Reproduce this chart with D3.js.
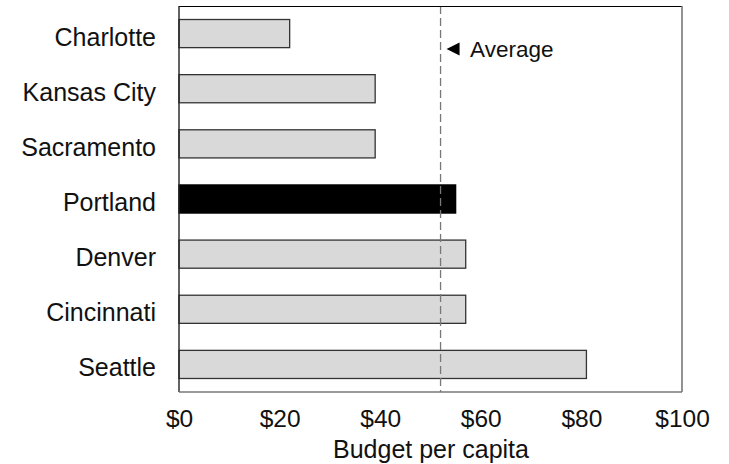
<!DOCTYPE html>
<html>
<head>
<meta charset="utf-8">
<script src="https://cdn.jsdelivr.net/npm/d3@7"></script>
<style>
  html, body { margin: 0; padding: 0; background: #fff; }
  svg { display: block; font-family: "Liberation Sans", Arial, sans-serif; }
</style>
</head>
<body>
<svg id="chart" width="729" height="464"></svg>
<script>
// Budget per capita by city
const cities = ["Charlotte", "Kansas City", "Sacramento", "Portland", "Denver", "Cincinnati", "Seattle"];
const budgets = [22, 39, 39, 55, 57, 57, 81];
const highlightCity = "Portland";
const averageBudget = 52;
const tickValues = [0, 20, 40, 60, 80, 100];
const axisTitle = "Budget per capita";
const averageLabel = "Average";

const W = 729, H = 464;
const margin = { top: 6, right: 47, bottom: 72, left: 179 };
const innerW = W - margin.left - margin.right;
const innerH = H - margin.top - margin.bottom;

const svg = d3.select("#chart");
const g = svg.append("g").attr("transform", `translate(${margin.left},${margin.top})`);

const x = d3.scaleLinear().domain([0, 100]).range([0, innerW]);
const y = d3.scaleBand().domain(cities).range([0, innerH]).paddingInner(0.49).paddingOuter(0.245);

// bars
g.selectAll("rect.bar")
  .data(cities.map((c, i) => ({ city: c, value: budgets[i] })))
  .join("rect")
  .attr("class", "bar")
  .attr("x", x(0))
  .attr("y", d => y(d.city))
  .attr("width", d => x(d.value) - x(0))
  .attr("height", y.bandwidth())
  .attr("fill", d => d.city === highlightCity ? "#000" : "#d9d9d9")
  .attr("stroke", d => d.city === highlightCity ? "#000" : "#333")
  .attr("stroke-width", 1.3);

// average reference line
g.append("line")
  .attr("x1", x(averageBudget)).attr("x2", x(averageBudget))
  .attr("y1", 0).attr("y2", innerH)
  .attr("stroke", "#777")
  .attr("stroke-width", 1.3)
  .attr("stroke-dasharray", "8,4");

// average annotation: left-pointing marker and label
const ax = x(averageBudget) + 6, ay = 43;
g.append("path")
  .attr("d", `M${ax},${ay} L${ax + 13},${ay - 6.5} L${ax + 13},${ay + 6.5} Z`)
  .attr("fill", "#000");
g.append("text")
  .attr("x", ax + 23.5).attr("y", ay + 7.5)
  .attr("font-size", 22.5)
  .attr("fill", "#111")
  .text(averageLabel);

// frame
g.append("line").attr("x1", 0).attr("x2", innerW).attr("y1", 0.5).attr("y2", 0.5).attr("stroke", "#000").attr("stroke-width", 1.2);
g.append("line").attr("x1", 0).attr("x2", 0).attr("y1", 0).attr("y2", innerH).attr("stroke", "#222").attr("stroke-width", 1.4);
g.append("line").attr("x1", innerW).attr("x2", innerW).attr("y1", 0).attr("y2", innerH).attr("stroke", "#777").attr("stroke-width", 1.6);
g.append("line").attr("x1", 0).attr("x2", innerW).attr("y1", innerH).attr("y2", innerH).attr("stroke", "#777").attr("stroke-width", 1.6);

// x axis labels (no tick marks)
const xAxis = d3.axisBottom(x).tickValues(tickValues).tickFormat(d => "$" + d).tickSize(0).tickPadding(17.5);
const xg = g.append("g").attr("transform", `translate(0,${innerH})`).call(xAxis);
xg.select(".domain").remove();
xg.selectAll("text").attr("font-size", 24.5).attr("font-family", null).attr("fill", "#111");

// y axis labels
const yAxis = d3.axisLeft(y).tickSize(0).tickPadding(23);
const yg = g.append("g").call(yAxis);
yg.select(".domain").remove();
yg.selectAll("text").attr("font-size", 25).attr("font-family", null).attr("fill", "#111").attr("dy", "0.48em");

// axis title
g.append("text")
  .attr("x", innerW / 2 + 0.5).attr("y", innerH + 66)
  .attr("text-anchor", "middle")
  .attr("font-size", 25)
  .attr("fill", "#111")
  .text(axisTitle);
</script>
</body>
</html>
